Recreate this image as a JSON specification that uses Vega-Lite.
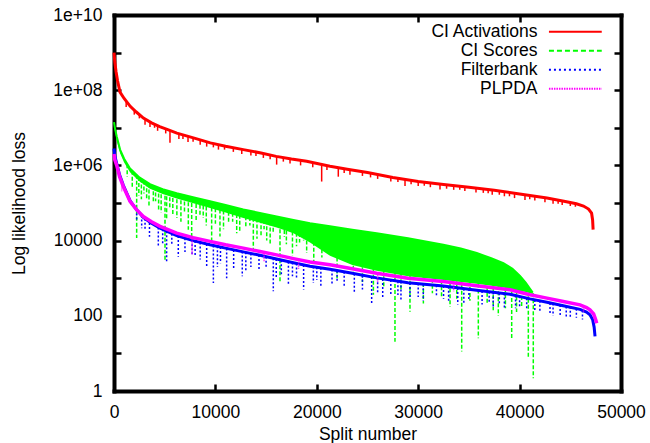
{
  "$schema": "https://vega.github.io/schema/vega-lite/v6.json",
  "width": 507,
  "height": 376,
  "autosize": {"type": "none"},
  "padding": {"left": 114, "top": 15, "right": 29, "bottom": 52},
  "background": "white",
  "config": {
    "font": "Liberation Sans",
    "view": {"stroke": null},
    "axis": {
      "labelFont": "Liberation Sans", "labelFontSize": 17.5, "labelColor": "black",
      "titleFont": "Liberation Sans", "titleFontSize": 17.5, "titleFontWeight": "normal", "titleColor": "black",
      "grid": false, "domainColor": "black", "domainWidth": 4, "domainCap": "square",
      "ticks": true, "tickColor": "black", "tickWidth": 2.5, "tickSize": -7, "zindex": 1, "labelFlush": false
    },
    "legend": {
      "orient": "none", "legendX": 455, "legendY": 8, "padding": 0,
      "symbolType": "M-4.8,0H4", "symbolSize": 144, "symbolStrokeWidth": 2,
      "labelAlign": "right", "labelOffset": -49, "labelFont": "Liberation Sans",
      "labelFontSize": 17.5, "labelColor": "black", "rowPadding": 0, "labelLimit": 300
    }
  },
  "datasets": {
    "curves": [
      {"s":"CI Activations","x":0,"y":1.0e9},{"s":"CI Activations","x":80,"y":5.62e8},{"s":"CI Activations","x":200,"y":3.16e8},{"s":"CI Activations","x":350,"y":1.78e8},{"s":"CI Activations","x":590,"y":8.91e7},{"s":"CI Activations","x":1000,"y":6.03e7},{"s":"CI Activations","x":1600,"y":3.72e7},{"s":"CI Activations","x":2200,"y":2.63e7},{"s":"CI Activations","x":2900,"y":1.82e7},{"s":"CI Activations","x":3700,"y":1.35e7},{"s":"CI Activations","x":4500,"y":1.07e7},{"s":"CI Activations","x":5300,"y":8.91e6},{"s":"CI Activations","x":6200,"y":7.24e6},{"s":"CI Activations","x":8000,"y":5.25e6},{"s":"CI Activations","x":9500,"y":3.98e6},{"s":"CI Activations","x":11000,"y":3.24e6},{"s":"CI Activations","x":12750,"y":2.63e6},{"s":"CI Activations","x":14500,"y":2.14e6},{"s":"CI Activations","x":16000,"y":1.74e6},{"s":"CI Activations","x":17500,"y":1.48e6},{"s":"CI Activations","x":19000,"y":1.29e6},{"s":"CI Activations","x":21300,"y":9.55e5},{"s":"CI Activations","x":23000,"y":7.94e5},{"s":"CI Activations","x":25000,"y":6.46e5},{"s":"CI Activations","x":27500,"y":4.79e5},{"s":"CI Activations","x":30000,"y":3.72e5},{"s":"CI Activations","x":32500,"y":3.09e5},{"s":"CI Activations","x":35000,"y":2.63e5},{"s":"CI Activations","x":37500,"y":2.19e5},{"s":"CI Activations","x":40000,"y":1.74e5},{"s":"CI Activations","x":42700,"y":1.35e5},{"s":"CI Activations","x":44500,"y":1.10e5},{"s":"CI Activations","x":45600,"y":9.55e4},{"s":"CI Activations","x":46300,"y":8.32e4},{"s":"CI Activations","x":46800,"y":6.92e4},{"s":"CI Activations","x":47100,"y":5.37e4},{"s":"CI Activations","x":47200,"y":3.55e4},{"s":"CI Activations","x":47250,"y":1.95e4},
      {"s":"CI Scores","x":0,"y":1.41e7},{"s":"CI Scores","x":100,"y":9.55e6},{"s":"CI Scores","x":270,"y":5.89e6},{"s":"CI Scores","x":600,"y":2.63e6},{"s":"CI Scores","x":1000,"y":1.51e6},{"s":"CI Scores","x":1580,"y":8.32e5},{"s":"CI Scores","x":2500,"y":4.79e5},{"s":"CI Scores","x":3550,"y":3.16e5},{"s":"CI Scores","x":4800,"y":2.34e5},{"s":"CI Scores","x":6180,"y":1.82e5},{"s":"CI Scores","x":8000,"y":1.38e5},{"s":"CI Scores","x":9470,"y":1.12e5},{"s":"CI Scores","x":11000,"y":8.91e4},{"s":"CI Scores","x":12750,"y":6.76e4},{"s":"CI Scores","x":14500,"y":5.37e4},{"s":"CI Scores","x":16040,"y":4.37e4},{"s":"CI Scores","x":17700,"y":3.55e4},{"s":"CI Scores","x":19330,"y":2.88e4},{"s":"CI Scores","x":21300,"y":2.40e4},{"s":"CI Scores","x":23500,"y":1.95e4},{"s":"CI Scores","x":25900,"y":1.58e4},{"s":"CI Scores","x":29000,"y":1.15e4},{"s":"CI Scores","x":32480,"y":7.76e3},{"s":"CI Scores","x":34200,"y":6.17e3},{"s":"CI Scores","x":35770,"y":4.68e3},{"s":"CI Scores","x":37200,"y":3.39e3},{"s":"CI Scores","x":38400,"y":2.51e3},{"s":"CI Scores","x":39300,"y":1.78e3},{"s":"CI Scores","x":40040,"y":1.15e3},{"s":"CI Scores","x":40600,"y":7.59e2},{"s":"CI Scores","x":41030,"y":5.25e2},{"s":"CI Scores","x":41300,"y":4.17e2},
      {"s":"Filterbank","x":0,"y":2.82e6},{"s":"Filterbank","x":80,"y":1.78e6},{"s":"Filterbank","x":270,"y":1.12e6},{"s":"Filterbank","x":550,"y":5.62e5},{"s":"Filterbank","x":920,"y":2.95e5},{"s":"Filterbank","x":1580,"y":1.15e5},{"s":"Filterbank","x":2200,"y":6.76e4},{"s":"Filterbank","x":2890,"y":4.17e4},{"s":"Filterbank","x":3700,"y":2.88e4},{"s":"Filterbank","x":4540,"y":2.14e4},{"s":"Filterbank","x":6180,"y":1.35e4},{"s":"Filterbank","x":7800,"y":1.0e4},{"s":"Filterbank","x":9470,"y":7.76e3},{"s":"Filterbank","x":11000,"y":6.31e3},{"s":"Filterbank","x":12750,"y":5.01e3},{"s":"Filterbank","x":14400,"y":4.07e3},{"s":"Filterbank","x":16040,"y":3.24e3},{"s":"Filterbank","x":17700,"y":2.57e3},{"s":"Filterbank","x":19330,"y":2.09e3},{"s":"Filterbank","x":21300,"y":1.74e3},{"s":"Filterbank","x":23500,"y":1.35e3},{"s":"Filterbank","x":25900,"y":1.02e3},{"s":"Filterbank","x":29000,"y":7.59e2},{"s":"Filterbank","x":32480,"y":6.17e2},{"s":"Filterbank","x":35770,"y":4.79e2},{"s":"Filterbank","x":39060,"y":3.72e2},{"s":"Filterbank","x":41030,"y":2.82e2},{"s":"Filterbank","x":42700,"y":2.29e2},{"s":"Filterbank","x":44310,"y":1.86e2},{"s":"Filterbank","x":45960,"y":1.48e2},{"s":"Filterbank","x":46600,"y":1.26e2},{"s":"Filterbank","x":46940,"y":1.07e2},{"s":"Filterbank","x":47200,"y":79.4},{"s":"Filterbank","x":47350,"y":50.1},{"s":"Filterbank","x":47440,"y":28.2},
      {"s":"PLPDA","x":0,"y":2.0e6},{"s":"PLPDA","x":80,"y":1.41e6},{"s":"PLPDA","x":270,"y":1.0e6},{"s":"PLPDA","x":550,"y":5.01e5},{"s":"PLPDA","x":920,"y":2.75e5},{"s":"PLPDA","x":1580,"y":1.10e5},{"s":"PLPDA","x":2200,"y":6.76e4},{"s":"PLPDA","x":2890,"y":4.37e4},{"s":"PLPDA","x":3700,"y":3.16e4},{"s":"PLPDA","x":4540,"y":2.40e4},{"s":"PLPDA","x":6180,"y":1.58e4},{"s":"PLPDA","x":7800,"y":1.20e4},{"s":"PLPDA","x":9470,"y":9.55e3},{"s":"PLPDA","x":11000,"y":7.76e3},{"s":"PLPDA","x":12750,"y":6.31e3},{"s":"PLPDA","x":14400,"y":5.13e3},{"s":"PLPDA","x":16040,"y":4.17e3},{"s":"PLPDA","x":17700,"y":3.31e3},{"s":"PLPDA","x":19330,"y":2.69e3},{"s":"PLPDA","x":21300,"y":2.29e3},{"s":"PLPDA","x":23500,"y":1.78e3},{"s":"PLPDA","x":25900,"y":1.35e3},{"s":"PLPDA","x":29000,"y":1.0e3},{"s":"PLPDA","x":32480,"y":8.13e2},{"s":"PLPDA","x":35770,"y":6.31e2},{"s":"PLPDA","x":39060,"y":4.90e2},{"s":"PLPDA","x":41030,"y":3.63e2},{"s":"PLPDA","x":42700,"y":2.95e2},{"s":"PLPDA","x":44310,"y":2.40e2},{"s":"PLPDA","x":45960,"y":1.95e2},{"s":"PLPDA","x":46600,"y":1.66e2},{"s":"PLPDA","x":46940,"y":1.45e2},{"s":"PLPDA","x":47300,"y":1.12e2},{"s":"PLPDA","x":47500,"y":79.4},{"s":"PLPDA","x":47600,"y":63.1}
    ],
    "band": [
      {"s":"CI Scores","x":0,"hi":1.41e7,"lo":1.26e7},{"s":"CI Scores","x":100,"hi":9.55e6,"lo":7.94e6},{"s":"CI Scores","x":270,"hi":5.89e6,"lo":4.68e6},{"s":"CI Scores","x":600,"hi":2.63e6,"lo":2.09e6},{"s":"CI Scores","x":1000,"hi":1.51e6,"lo":1.20e6},{"s":"CI Scores","x":1580,"hi":8.32e5,"lo":6.61e5},{"s":"CI Scores","x":2500,"hi":4.79e5,"lo":3.80e5},{"s":"CI Scores","x":3550,"hi":3.16e5,"lo":2.40e5},{"s":"CI Scores","x":4800,"hi":2.34e5,"lo":1.74e5},{"s":"CI Scores","x":6180,"hi":1.82e5,"lo":1.32e5},{"s":"CI Scores","x":8000,"hi":1.38e5,"lo":9.55e4},{"s":"CI Scores","x":9470,"hi":1.12e5,"lo":7.41e4},{"s":"CI Scores","x":11000,"hi":8.91e4,"lo":5.62e4},{"s":"CI Scores","x":12750,"hi":6.76e4,"lo":3.98e4},{"s":"CI Scores","x":14500,"hi":5.37e4,"lo":2.95e4},{"s":"CI Scores","x":16040,"hi":4.37e4,"lo":2.24e4},{"s":"CI Scores","x":17700,"hi":3.55e4,"lo":1.58e4},{"s":"CI Scores","x":19330,"hi":2.88e4,"lo":8.91e3},{"s":"CI Scores","x":21300,"hi":2.40e4,"lo":3.98e3},{"s":"CI Scores","x":23500,"hi":1.95e4,"lo":2.24e3},{"s":"CI Scores","x":25900,"hi":1.58e4,"lo":1.58e3},{"s":"CI Scores","x":29000,"hi":1.15e4,"lo":1.12e3},{"s":"CI Scores","x":32480,"hi":7.76e3,"lo":8.91e2},{"s":"CI Scores","x":35770,"hi":4.68e3,"lo":7.08e2},{"s":"CI Scores","x":37200,"hi":3.39e3,"lo":6.31e2},{"s":"CI Scores","x":38400,"hi":2.51e3,"lo":5.62e2},{"s":"CI Scores","x":39300,"hi":1.78e3,"lo":5.01e2},{"s":"CI Scores","x":40040,"hi":1.15e3,"lo":4.57e2},{"s":"CI Scores","x":40600,"hi":7.59e2,"lo":4.27e2},{"s":"CI Scores","x":41030,"hi":5.25e2,"lo":3.98e2},{"s":"CI Scores","x":41300,"hi":4.17e2,"lo":3.80e2}
    ],
    "spikes": [
      {"s":"CI Activations","x":1200,"hi":5.01e7,"lo":3.55e7},{"s":"CI Activations","x":2000,"hi":2.95e7,"lo":2.24e7},{"s":"CI Activations","x":2500,"hi":2.24e7,"lo":1.78e7},{"s":"CI Activations","x":3060,"hi":1.70e7,"lo":1.20e7},{"s":"CI Activations","x":3550,"hi":1.41e7,"lo":1.05e7},{"s":"CI Activations","x":4000,"hi":1.23e7,"lo":1.0e7},{"s":"CI Activations","x":4300,"hi":1.12e7,"lo":8.32e6},{"s":"CI Activations","x":5100,"hi":9.33e6,"lo":7.08e6},{"s":"CI Activations","x":5520,"hi":8.51e6,"lo":3.98e6},{"s":"CI Activations","x":6400,"hi":6.92e6,"lo":5.01e6},{"s":"CI Activations","x":6800,"hi":6.46e6,"lo":5.01e6},{"s":"CI Activations","x":7300,"hi":5.89e6,"lo":4.17e6},{"s":"CI Activations","x":7800,"hi":5.37e6,"lo":4.27e6},{"s":"CI Activations","x":8500,"hi":4.79e6,"lo":3.55e6},{"s":"CI Activations","x":9140,"hi":4.27e6,"lo":3.16e6},{"s":"CI Activations","x":9800,"hi":3.80e6,"lo":3.02e6},{"s":"CI Activations","x":10300,"hi":3.63e6,"lo":2.63e6},{"s":"CI Activations","x":10900,"hi":3.31e6,"lo":2.63e6},{"s":"CI Activations","x":11770,"hi":2.95e6,"lo":2.29e6},{"s":"CI Activations","x":12600,"hi":2.69e6,"lo":2.0e6},{"s":"CI Activations","x":13500,"hi":2.40e6,"lo":1.82e6},{"s":"CI Activations","x":14000,"hi":2.24e6,"lo":1.78e6},{"s":"CI Activations","x":14730,"hi":2.09e6,"lo":1.58e6},{"s":"CI Activations","x":15400,"hi":1.86e6,"lo":1.45e6},{"s":"CI Activations","x":16040,"hi":1.74e6,"lo":1.05e6},{"s":"CI Activations","x":16700,"hi":1.62e6,"lo":1.26e6},{"s":"CI Activations","x":17360,"hi":1.51e6,"lo":1.12e6},{"s":"CI Activations","x":18400,"hi":1.35e6,"lo":1.0e6},{"s":"CI Activations","x":19600,"hi":1.20e6,"lo":8.91e5},{"s":"CI Activations","x":20480,"hi":1.07e6,"lo":3.72e5},{"s":"CI Activations","x":21000,"hi":1.0e6,"lo":7.59e5},{"s":"CI Activations","x":22120,"hi":8.71e5,"lo":5.01e5},{"s":"CI Activations","x":22700,"hi":8.13e5,"lo":6.31e5},{"s":"CI Activations","x":23270,"hi":7.76e5,"lo":5.62e5},{"s":"CI Activations","x":24500,"hi":6.76e5,"lo":5.25e5},{"s":"CI Activations","x":25300,"hi":6.31e5,"lo":4.79e5},{"s":"CI Activations","x":26000,"hi":5.75e5,"lo":4.37e5},{"s":"CI Activations","x":27300,"hi":4.90e5,"lo":3.72e5},{"s":"CI Activations","x":28000,"hi":4.57e5,"lo":3.63e5},{"s":"CI Activations","x":28700,"hi":4.17e5,"lo":2.82e5},{"s":"CI Activations","x":29300,"hi":3.98e5,"lo":3.16e5},{"s":"CI Activations","x":30000,"hi":3.72e5,"lo":2.82e5},{"s":"CI Activations","x":30600,"hi":3.55e5,"lo":2.88e5},{"s":"CI Activations","x":31200,"hi":3.39e5,"lo":2.63e5},{"s":"CI Activations","x":32150,"hi":3.16e5,"lo":2.29e5},{"s":"CI Activations","x":32800,"hi":3.02e5,"lo":2.40e5},{"s":"CI Activations","x":33500,"hi":2.88e5,"lo":2.24e5},{"s":"CI Activations","x":34100,"hi":2.75e5,"lo":2.24e5},{"s":"CI Activations","x":34600,"hi":2.69e5,"lo":2.09e5},{"s":"CI Activations","x":35700,"hi":2.51e5,"lo":1.91e5},{"s":"CI Activations","x":36420,"hi":2.45e5,"lo":1.86e5},{"s":"CI Activations","x":36900,"hi":2.29e5,"lo":1.82e5},{"s":"CI Activations","x":37300,"hi":2.24e5,"lo":1.66e5},{"s":"CI Activations","x":38000,"hi":2.09e5,"lo":1.66e5},{"s":"CI Activations","x":38500,"hi":2.0e5,"lo":1.51e5},{"s":"CI Activations","x":39000,"hi":1.91e5,"lo":1.51e5},{"s":"CI Activations","x":39500,"hi":1.82e5,"lo":1.35e5},{"s":"CI Activations","x":40530,"hi":1.66e5,"lo":1.20e5},{"s":"CI Activations","x":41000,"hi":1.58e5,"lo":1.26e5},{"s":"CI Activations","x":41500,"hi":1.51e5,"lo":1.17e5},{"s":"CI Activations","x":42500,"hi":1.38e5,"lo":1.05e5},{"s":"CI Activations","x":43300,"hi":1.26e5,"lo":9.55e4},{"s":"CI Activations","x":43800,"hi":1.17e5,"lo":9.55e4},{"s":"CI Activations","x":44200,"hi":1.15e5,"lo":8.91e4},{"s":"CI Activations","x":45000,"hi":1.02e5,"lo":8.32e4},{"s":"CI Activations","x":45500,"hi":9.55e4,"lo":7.94e4},
      {"s":"CI Scores","x":1300,"hi":1.07e6,"lo":5.01e5},{"s":"CI Scores","x":1800,"hi":7.24e5,"lo":2.51e5},{"s":"CI Scores","x":2235,"hi":5.62e5,"lo":1.17e4},{"s":"CI Scores","x":2450,"hi":4.90e5,"lo":1.58e5},{"s":"CI Scores","x":2700,"hi":4.47e5,"lo":1.26e5},{"s":"CI Scores","x":2950,"hi":3.98e5,"lo":1.78e5},{"s":"CI Scores","x":3220,"hi":3.55e5,"lo":1.23e5},{"s":"CI Scores","x":3450,"hi":3.31e5,"lo":7.94e4},{"s":"CI Scores","x":3880,"hi":2.95e5,"lo":1.0e5},{"s":"CI Scores","x":4100,"hi":2.75e5,"lo":1.12e5},{"s":"CI Scores","x":4400,"hi":2.57e5,"lo":6.31e4},{"s":"CI Scores","x":4650,"hi":2.45e5,"lo":5.62e4},{"s":"CI Scores","x":5030,"hi":2.24e5,"lo":2.75e3},{"s":"CI Scores","x":5190,"hi":2.19e5,"lo":3.55e4},{"s":"CI Scores","x":5500,"hi":2.04e5,"lo":7.08e4},{"s":"CI Scores","x":5800,"hi":1.95e5,"lo":5.01e4},{"s":"CI Scores","x":6200,"hi":1.82e5,"lo":3.98e4},{"s":"CI Scores","x":6600,"hi":1.70e5,"lo":3.16e4},{"s":"CI Scores","x":6950,"hi":1.58e5,"lo":5.62e4},{"s":"CI Scores","x":7330,"hi":1.51e5,"lo":1.95e4},{"s":"CI Scores","x":7660,"hi":1.45e5,"lo":1.0e4},{"s":"CI Scores","x":8100,"hi":1.35e5,"lo":3.16e4},{"s":"CI Scores","x":8480,"hi":1.29e5,"lo":4.37e4},{"s":"CI Scores","x":8800,"hi":1.23e5,"lo":3.98e4},{"s":"CI Scores","x":9100,"hi":1.17e5,"lo":2.51e4},{"s":"CI Scores","x":9630,"hi":1.10e5,"lo":9.55e3},{"s":"CI Scores","x":10000,"hi":1.05e5,"lo":2.82e4},{"s":"CI Scores","x":10450,"hi":9.77e4,"lo":1.29e4},{"s":"CI Scores","x":10800,"hi":9.12e4,"lo":2.0e4},{"s":"CI Scores","x":11300,"hi":8.51e4,"lo":2.82e4},{"s":"CI Scores","x":11700,"hi":7.94e4,"lo":3.16e4},{"s":"CI Scores","x":12100,"hi":7.41e4,"lo":1.58e4},{"s":"CI Scores","x":12400,"hi":7.08e4,"lo":1.78e4},{"s":"CI Scores","x":13000,"hi":6.46e4,"lo":2.24e4},{"s":"CI Scores","x":13400,"hi":6.17e4,"lo":2.51e4},{"s":"CI Scores","x":13740,"hi":5.89e4,"lo":5.75e3},{"s":"CI Scores","x":14100,"hi":5.62e4,"lo":1.12e4},{"s":"CI Scores","x":14500,"hi":5.37e4,"lo":1.26e4},{"s":"CI Scores","x":14800,"hi":5.13e4,"lo":2.0e4},{"s":"CI Scores","x":15060,"hi":5.01e4,"lo":1.0e4},{"s":"CI Scores","x":15400,"hi":4.68e4,"lo":7.94e3},{"s":"CI Scores","x":15700,"hi":4.57e4,"lo":1.58e4},{"s":"CI Scores","x":16370,"hi":4.17e4,"lo":7.41e2},{"s":"CI Scores","x":16800,"hi":3.98e4,"lo":1.26e4},{"s":"CI Scores","x":17000,"hi":3.89e4,"lo":7.94e3},{"s":"CI Scores","x":17600,"hi":3.63e4,"lo":3.98e3},{"s":"CI Scores","x":18000,"hi":3.39e4,"lo":7.08e3},{"s":"CI Scores","x":18300,"hi":3.31e4,"lo":8.91e3},{"s":"CI Scores","x":18700,"hi":3.16e4,"lo":1.0e4},{"s":"CI Scores","x":19000,"hi":3.02e4,"lo":4.68e3},{"s":"CI Scores","x":19700,"hi":2.82e4,"lo":2.51e3},{"s":"CI Scores","x":20500,"hi":2.57e4,"lo":3.55e3},{"s":"CI Scores","x":22000,"hi":2.24e4,"lo":1.0e3},{"s":"CI Scores","x":23600,"hi":1.95e4,"lo":1.26e3},{"s":"CI Scores","x":24500,"hi":1.78e4,"lo":7.94e2},{"s":"CI Scores","x":25580,"hi":1.62e4,"lo":3.63e2},{"s":"CI Scores","x":26600,"hi":1.48e4,"lo":5.62e2},{"s":"CI Scores","x":27710,"hi":1.32e4,"lo":20.4},{"s":"CI Scores","x":28300,"hi":1.23e4,"lo":5.01e2},{"s":"CI Scores","x":29190,"hi":1.12e4,"lo":1.29e2},{"s":"CI Scores","x":30510,"hi":9.77e3,"lo":2.14e2},{"s":"CI Scores","x":31400,"hi":8.71e3,"lo":3.98e2},{"s":"CI Scores","x":32300,"hi":7.94e3,"lo":3.16e2},{"s":"CI Scores","x":33140,"hi":7.08e3,"lo":1.74e2},{"s":"CI Scores","x":33800,"hi":6.46e3,"lo":2.82e2},{"s":"CI Scores","x":34290,"hi":6.03e3,"lo":11.2},{"s":"CI Scores","x":35100,"hi":5.25e3,"lo":2.51e2},{"s":"CI Scores","x":35930,"hi":4.57e3,"lo":25.1},{"s":"CI Scores","x":36800,"hi":3.72e3,"lo":2.0e2},{"s":"CI Scores","x":37400,"hi":3.24e3,"lo":1.41e2},{"s":"CI Scores","x":37900,"hi":2.82e3,"lo":1.0e2},{"s":"CI Scores","x":38600,"hi":2.34e3,"lo":1.58e2},{"s":"CI Scores","x":39220,"hi":1.86e3,"lo":25.1},{"s":"CI Scores","x":39700,"hi":1.41e3,"lo":1.26e2},{"s":"CI Scores","x":40200,"hi":1.02e3,"lo":1.78e2},{"s":"CI Scores","x":40860,"hi":5.89e2,"lo":8.13},{"s":"CI Scores","x":41350,"hi":3.98e2,"lo":2.19},
      {"s":"Filterbank","x":2235,"hi":6.76e4,"lo":3.55e4},{"s":"Filterbank","x":2730,"hi":4.68e4,"lo":2.14e4},{"s":"Filterbank","x":3060,"hi":3.80e4,"lo":2.0e4},{"s":"Filterbank","x":3500,"hi":2.95e4,"lo":1.26e4},{"s":"Filterbank","x":4370,"hi":2.24e4,"lo":6.92e3},{"s":"Filterbank","x":4800,"hi":2.0e4,"lo":7.94e3},{"s":"Filterbank","x":5190,"hi":1.78e4,"lo":2.75e3},{"s":"Filterbank","x":5700,"hi":1.51e4,"lo":7.94e3},{"s":"Filterbank","x":6340,"hi":1.32e4,"lo":3.72e3},{"s":"Filterbank","x":7000,"hi":1.15e4,"lo":5.01e3},{"s":"Filterbank","x":7700,"hi":1.02e4,"lo":4.17e3},{"s":"Filterbank","x":8000,"hi":9.77e3,"lo":3.98e3},{"s":"Filterbank","x":8500,"hi":8.91e3,"lo":3.16e3},{"s":"Filterbank","x":9140,"hi":8.13e3,"lo":1.86e3},{"s":"Filterbank","x":9800,"hi":7.41e3,"lo":7.41e2},{"s":"Filterbank","x":10200,"hi":7.08e3,"lo":2.0e3},{"s":"Filterbank","x":10500,"hi":6.76e3,"lo":2.51e3},{"s":"Filterbank","x":11110,"hi":6.17e3,"lo":1.0e3},{"s":"Filterbank","x":11800,"hi":5.62e3,"lo":1.78e3},{"s":"Filterbank","x":12650,"hi":5.13e3,"lo":1.12e3},{"s":"Filterbank","x":13000,"hi":4.90e3,"lo":1.58e3},{"s":"Filterbank","x":13500,"hi":4.57e3,"lo":2.0e3},{"s":"Filterbank","x":14300,"hi":4.17e3,"lo":1.58e3},{"s":"Filterbank","x":15000,"hi":3.72e3,"lo":2.0e3},{"s":"Filterbank","x":15710,"hi":3.39e3,"lo":4.47e2},{"s":"Filterbank","x":16000,"hi":3.24e3,"lo":1.0e3},{"s":"Filterbank","x":16500,"hi":3.02e3,"lo":1.26e3},{"s":"Filterbank","x":17200,"hi":2.75e3,"lo":7.08e2},{"s":"Filterbank","x":17600,"hi":2.63e3,"lo":1.12e3},{"s":"Filterbank","x":18000,"hi":2.45e3,"lo":1.0e3},{"s":"Filterbank","x":18700,"hi":2.24e3,"lo":5.01e2},{"s":"Filterbank","x":19660,"hi":2.04e3,"lo":7.41e2},{"s":"Filterbank","x":20000,"hi":1.95e3,"lo":8.91e2},{"s":"Filterbank","x":20400,"hi":1.91e3,"lo":6.31e2},{"s":"Filterbank","x":21500,"hi":1.70e3,"lo":7.08e2},{"s":"Filterbank","x":22000,"hi":1.58e3,"lo":7.94e2},{"s":"Filterbank","x":22700,"hi":1.48e3,"lo":5.62e2},{"s":"Filterbank","x":23700,"hi":1.32e3,"lo":3.98e2},{"s":"Filterbank","x":24500,"hi":1.17e3,"lo":5.01e2},{"s":"Filterbank","x":25410,"hi":1.07e3,"lo":1.95e2},{"s":"Filterbank","x":26000,"hi":1.0e3,"lo":3.98e2},{"s":"Filterbank","x":26500,"hi":9.55e2,"lo":3.16e2},{"s":"Filterbank","x":27300,"hi":8.91e2,"lo":3.55e2},{"s":"Filterbank","x":28000,"hi":8.32e2,"lo":3.55e2},{"s":"Filterbank","x":28300,"hi":8.13e2,"lo":2.51e2},{"s":"Filterbank","x":29190,"hi":7.41e2,"lo":2.82e2},{"s":"Filterbank","x":30000,"hi":7.24e2,"lo":3.16e2},{"s":"Filterbank","x":30500,"hi":6.92e2,"lo":2.51e2},{"s":"Filterbank","x":31800,"hi":6.46e2,"lo":3.16e2},{"s":"Filterbank","x":32500,"hi":6.17e2,"lo":2.82e2},{"s":"Filterbank","x":33000,"hi":5.89e2,"lo":2.24e2},{"s":"Filterbank","x":33900,"hi":5.50e2,"lo":2.0e2},{"s":"Filterbank","x":34500,"hi":5.25e2,"lo":2.24e2},{"s":"Filterbank","x":35000,"hi":5.13e2,"lo":2.51e2},{"s":"Filterbank","x":36300,"hi":4.57e2,"lo":2.0e2},{"s":"Filterbank","x":37000,"hi":4.37e2,"lo":2.24e2},{"s":"Filterbank","x":37400,"hi":4.17e2,"lo":1.78e2},{"s":"Filterbank","x":38000,"hi":3.98e2,"lo":2.0e2},{"s":"Filterbank","x":38500,"hi":3.89e2,"lo":1.58e2},{"s":"Filterbank","x":39600,"hi":3.47e2,"lo":1.58e2},{"s":"Filterbank","x":40000,"hi":3.31e2,"lo":1.58e2},{"s":"Filterbank","x":40700,"hi":2.95e2,"lo":1.41e2},{"s":"Filterbank","x":41500,"hi":2.63e2,"lo":1.41e2},{"s":"Filterbank","x":42000,"hi":2.51e2,"lo":1.26e2},{"s":"Filterbank","x":43000,"hi":2.19e2,"lo":1.12e2},{"s":"Filterbank","x":43300,"hi":2.14e2,"lo":1.0e2},{"s":"Filterbank","x":44000,"hi":1.95e2,"lo":1.0e2},{"s":"Filterbank","x":44600,"hi":1.78e2,"lo":89.1},{"s":"Filterbank","x":45000,"hi":1.74e2,"lo":89.1},{"s":"Filterbank","x":45600,"hi":1.55e2,"lo":89.1},{"s":"Filterbank","x":46200,"hi":1.38e2,"lo":79.4},
      {"s":"PLPDA","x":760,"hi":3.31e5,"lo":2.0e5},{"s":"PLPDA","x":7700,"hi":1.23e4,"lo":4.17e3},{"s":"PLPDA","x":14800,"hi":4.90e3,"lo":2.82e3},{"s":"PLPDA","x":18200,"hi":3.09e3,"lo":1.78e3},{"s":"PLPDA","x":26000,"hi":1.35e3,"lo":7.94e2},{"s":"PLPDA","x":33500,"hi":7.59e2,"lo":4.47e2},{"s":"PLPDA","x":46300,"hi":1.78e2,"lo":1.26e2}
    ]
  },
  "resolve": {"axis": {"x": "independent", "y": "independent"}},
  "encoding": {
    "x": {"field": "x", "type": "quantitative", "scale": {"domain": [0, 50000], "nice": false}},
    "color": {
      "field": "s", "type": "nominal",
      "scale": {"domain": ["CI Activations", "CI Scores", "Filterbank", "PLPDA"], "range": ["#ff0000", "#00ff00", "#0000ff", "#ff00ff"]},
      "legend": {
        "title": null,
        "encode": {"symbols": {"update": {
          "stroke": {"scale": "color", "field": "value"},
          "fill": {"value": "transparent"},
          "strokeDash": {"signal": "datum.value === 'CI Scores' ? [5,3] : datum.value === 'Filterbank' ? [2,3] : datum.value === 'PLPDA' ? [1.5,1] : [100,0]"}
        }}}
      }
    }
  },
  "layer": [
    {
      "data": {"name": "curves"},
      "transform": [{"filter": "datum.s === 'CI Activations'"}],
      "mark": {"type": "line", "strokeWidth": 3},
      "encoding": {
        "x": {"field": "x", "type": "quantitative", "title": "Split number",
          "axis": {"orient": "bottom", "values": [0, 10000, 20000, 30000, 40000, 50000], "format": "d", "labelPadding": 19, "titlePadding": 5, "domainWidth": 4, "tickSize": -7}},
        "y": {"field": "y", "type": "quantitative", "title": "Log likelihood loss",
          "scale": {"type": "log", "domain": [1, 1e10], "nice": false},
          "axis": {"orient": "left", "values": [1, 10, 100, 1000, 10000, 100000, 1000000, 10000000, 100000000, 1000000000, 10000000000], "format": "d", "labelPadding": 19, "titlePadding": 24, "domainWidth": 4, "tickSize": -7,
            "labelExpr": "round(log(datum.value)/LN10) % 2 != 0 ? '' : (datum.value >= 1e6 ? '1e+' + (round(log(datum.value)/LN10) < 10 ? '0' : '') + round(log(datum.value)/LN10) : format(datum.value, 'd'))"}}
      }
    },
    {
      "data": {"name": "spikes"},
      "transform": [{"filter": "datum.s === 'CI Activations'"}],
      "mark": {"type": "rule", "strokeWidth": 1.5},
      "encoding": {
        "x": {"field": "x", "type": "quantitative",
          "axis": {"orient": "top", "values": [0, 10000, 20000, 30000, 40000, 50000], "labels": false, "title": null, "domainWidth": 4, "tickSize": -7}},
        "y": {"field": "hi", "type": "quantitative",
          "axis": {"orient": "right", "values": [1, 10, 100, 1000, 10000, 100000, 1000000, 10000000, 100000000, 1000000000, 10000000000], "labels": false, "title": null, "domainWidth": 4, "tickSize": -7}},
        "y2": {"field": "lo"}
      }
    },
    {
      "data": {"name": "band"},
      "mark": {"type": "area"},
      "encoding": {
        "x": {"field": "x", "type": "quantitative", "axis": null},
        "y": {"field": "hi", "type": "quantitative", "axis": null},
        "y2": {"field": "lo"}
      }
    },
    {
      "data": {"name": "spikes"},
      "transform": [{"filter": "datum.s === 'CI Scores'"}],
      "mark": {"type": "rule", "strokeWidth": 1.5, "strokeDash": [4, 2]},
      "encoding": {
        "x": {"field": "x", "type": "quantitative", "axis": null},
        "y": {"field": "hi", "type": "quantitative", "axis": null},
        "y2": {"field": "lo"}
      }
    },
    {
      "data": {"name": "curves"},
      "transform": [{"filter": "datum.s === 'CI Scores'"}],
      "mark": {"type": "line", "strokeWidth": 2},
      "encoding": {
        "x": {"field": "x", "type": "quantitative", "axis": null},
        "y": {"field": "y", "type": "quantitative", "axis": null}
      }
    },
    {
      "data": {"name": "curves"},
      "transform": [{"filter": "datum.s === 'Filterbank'"}],
      "mark": {"type": "line", "strokeWidth": 3},
      "encoding": {
        "x": {"field": "x", "type": "quantitative", "axis": null},
        "y": {"field": "y", "type": "quantitative", "axis": null}
      }
    },
    {
      "data": {"name": "spikes"},
      "transform": [{"filter": "datum.s === 'Filterbank'"}],
      "mark": {"type": "rule", "strokeWidth": 1.5, "strokeDash": [2, 2]},
      "encoding": {
        "x": {"field": "x", "type": "quantitative", "axis": null},
        "y": {"field": "hi", "type": "quantitative", "axis": null},
        "y2": {"field": "lo"}
      }
    },
    {
      "data": {"name": "curves"},
      "transform": [{"filter": "datum.s === 'PLPDA'"}],
      "mark": {"type": "line", "strokeWidth": 3.5},
      "encoding": {
        "x": {"field": "x", "type": "quantitative", "axis": null},
        "y": {"field": "y", "type": "quantitative", "axis": null}
      }
    },
    {
      "data": {"name": "spikes"},
      "transform": [{"filter": "datum.s === 'PLPDA'"}],
      "mark": {"type": "rule", "strokeWidth": 1.5, "strokeDash": [1, 1]},
      "encoding": {
        "x": {"field": "x", "type": "quantitative", "axis": null},
        "y": {"field": "hi", "type": "quantitative", "axis": null},
        "y2": {"field": "lo"}
      }
    }
  ]
}
